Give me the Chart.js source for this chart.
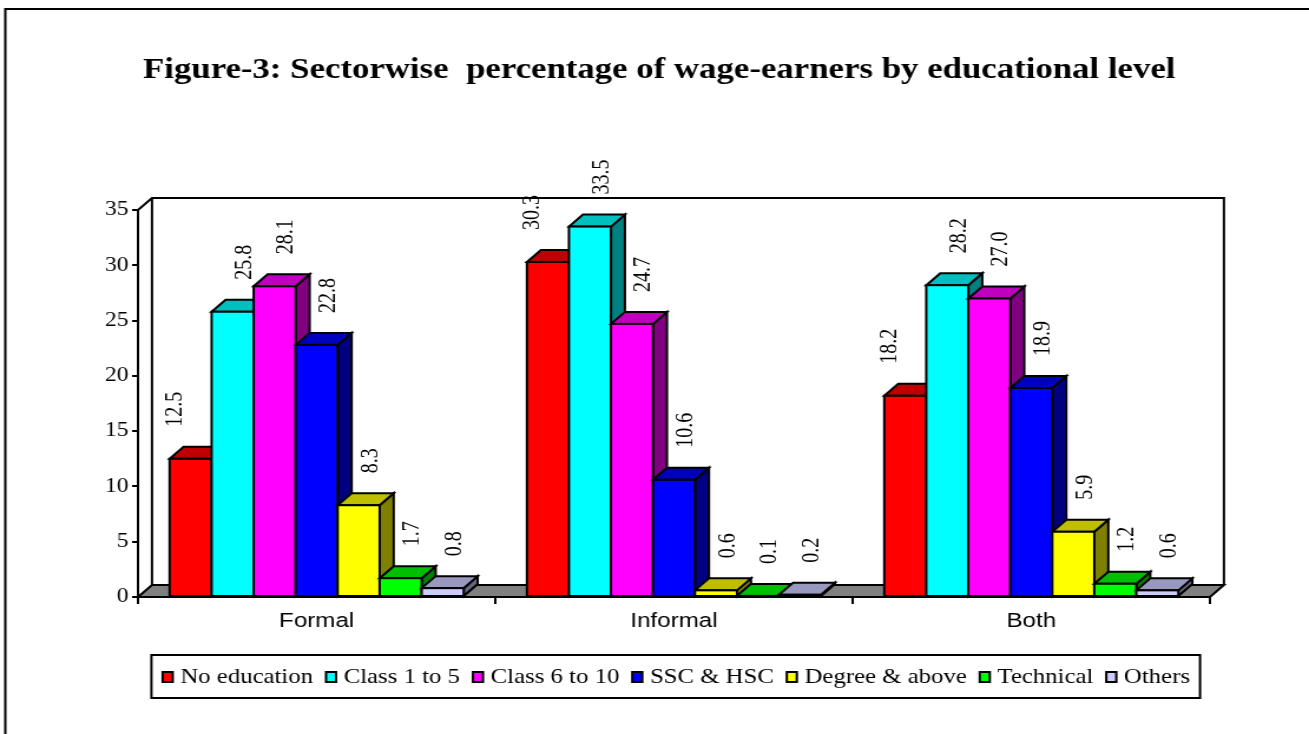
<!DOCTYPE html>
<html>
<head>
<meta charset="utf-8">
<title>Figure-3</title>
<script src="https://cdn.jsdelivr.net/npm/chart.js@4.4.1/dist/chart.umd.min.js"></script>
<style>
    html, body { margin: 0; padding: 0; background: #fff; overflow: hidden; }
    #wageChart { display: block; }
</style>
</head>
<body>
<canvas id="wageChart" width="1110" height="734" style="width:1309px;height:734px"></canvas>
<script>
const sectors = ['Formal', 'Informal', 'Both'];
const levels = ['No education', 'Class 1 to 5', 'Class 6 to 10', 'SSC & HSC', 'Degree & above', 'Technical', 'Others'];

const noEducation = [12.5, 30.3, 18.2];
const class1to5 = [25.8, 33.5, 28.2];
const class6to10 = [28.1, 24.7, 27.0];
const sscHsc = [22.8, 10.6, 18.9];
const degreeAbove = [8.3, 0.6, 5.9];
const technical = [1.7, 0.1, 1.2];
const others = [0.8, 0.2, 0.6];

const yTicks = [0, 5, 10, 15, 20, 25, 30, 35];

const seriesValues = [noEducation, class1to5, class6to10, sscHsc, degreeAbove, technical, others];
const faceColors = ['#FF0000', '#00FFFF', '#FF00FF', '#0000FF', '#FFFF00', '#00FF00', '#CCCCFF'];

// the original picture is stretched sideways, so the canvas is drawn narrower and widened by css
const STRETCH = 1309 / 1110;
const DX = 14 / STRETCH;   // depth of the 3d boxes
const DY = 12;
const SERIF = '"Liberation Serif", "Times New Roman", serif';

function shade(hex, f) {
    const n = parseInt(hex.slice(1), 16);
    const r = Math.round(((n >> 16) & 255) * f);
    const g = Math.round(((n >> 8) & 255) * f);
    const b = Math.round((n & 255) * f);
    return `rgb(${r},${g},${b})`;
}

const frame3d = {
    id: 'frame3d',
    afterLayout(chart) {
        // title and legend are not centred on the canvas in the original
        chart.titleBlock.left = 0;
        chart.titleBlock.right = 2 * 559;
        chart.legend.left = 0;
        chart.legend.right = 2 * 573;
    },
    beforeDraw(chart) {
        const ctx = chart.ctx;
        ctx.save();
        ctx.fillStyle = '#fff';
        ctx.fillRect(0, 0, chart.width, chart.height);
        ctx.strokeStyle = '#000';
        ctx.lineWidth = 2;
        ctx.strokeRect(4.5, 9, chart.width + 40, chart.height + 40);
        ctx.restore();
    },
    beforeDatasetsDraw(chart) {
        const ctx = chart.ctx;
        const {left: L, right: R, top: T, bottom: B} = chart.chartArea;
        ctx.save();
        ctx.strokeStyle = '#000';
        ctx.lineWidth = 2;
        // floor
        ctx.beginPath();
        ctx.moveTo(L, B);
        ctx.lineTo(L + DX, B - DY);
        ctx.lineTo(R + DX, B - DY);
        ctx.lineTo(R, B);
        ctx.closePath();
        ctx.fillStyle = '#808080';
        ctx.fill();
        ctx.stroke();
        // back wall outline
        ctx.beginPath();
        ctx.moveTo(L, T);
        ctx.lineTo(L + DX, T - DY);
        ctx.lineTo(R + DX, T - DY);
        ctx.lineTo(R + DX, B - DY);
        ctx.moveTo(L + DX, T - DY);
        ctx.lineTo(L + DX, B - DY);
        ctx.stroke();
        ctx.restore();
    },
    afterDatasetsDraw(chart) {
        const ctx = chart.ctx;
        ctx.save();
        ctx.strokeStyle = '#000';
        ctx.lineWidth = 2;
        ctx.lineJoin = 'miter';
        // redraw boxes left to right so each one hides the side of the one before
        sectors.forEach((s, j) => {
            seriesValues.forEach((vals, i) => {
                const el = chart.getDatasetMeta(i).data[j];
                const {x, y, base, width} = el.getProps(['x', 'y', 'base', 'width'], true);
                const xl = x - width / 2;
                const xr = x + width / 2;
                const col = faceColors[i];

                ctx.beginPath();
                ctx.moveTo(xr, y);
                ctx.lineTo(xr + DX, y - DY);
                ctx.lineTo(xr + DX, base - DY);
                ctx.lineTo(xr, base);
                ctx.closePath();
                ctx.fillStyle = shade(col, 0.5);
                ctx.fill();
                ctx.stroke();

                ctx.beginPath();
                ctx.moveTo(xl, y);
                ctx.lineTo(xl + DX, y - DY);
                ctx.lineTo(xr + DX, y - DY);
                ctx.lineTo(xr, y);
                ctx.closePath();
                ctx.fillStyle = shade(col, 0.75);
                ctx.fill();
                ctx.stroke();

                ctx.fillStyle = col;
                ctx.fillRect(xl, y, width, base - y);
                ctx.strokeRect(xl, y, width, base - y);
            });
        });

        // value labels, turned upright; the first series sits left of its box in the original
        ctx.fillStyle = '#000';
        ctx.font = '20px ' + SERIF;
        ctx.textAlign = 'left';
        ctx.textBaseline = 'middle';
        seriesValues.forEach((vals, i) => {
            const shift = (i === 0 ? -15 : 12) / STRETCH;
            chart.getDatasetMeta(i).data.forEach((el, j) => {
                const {x, y} = el.getProps(['x', 'y'], true);
                ctx.save();
                ctx.translate(x + shift, y - 32);
                ctx.rotate(-Math.PI / 2);
                ctx.fillText(vals[j].toFixed(1), 0, 0);
                ctx.restore();
            });
        });
        ctx.restore();
    },
    afterDraw(chart) {
        const hb = chart.legend.legendHitBoxes;
        if (!hb || !hb.length) return;
        const ctx = chart.ctx;
        ctx.save();
        ctx.strokeStyle = '#000';
        ctx.lineWidth = 2;
        // legend swatches, drawn narrower than the library's box spacing
        hb.forEach((h, i) => {
            const top = h.top + (h.height - 12) / 2 + 1;
            ctx.fillStyle = faceColors[i];
            ctx.fillRect(h.left + 1, top, 8.5, 10);
            ctx.strokeRect(h.left + 1, top, 8.5, 10);
        });
        const l = Math.min(...hb.map(h => h.left)) - 8.5;
        const r = Math.max(...hb.map(h => h.left + h.width)) + 8.5;
        const t = hb[0].top - 11.5;
        const b = hb[0].top + hb[0].height + 10.5;
        ctx.strokeRect(l, t, r - l, b - t);
        ctx.restore();
    }
};

Chart.defaults.color = '#000';

new Chart(document.getElementById('wageChart').getContext('2d'), {
    type: 'bar',
    data: {
        labels: sectors,
        datasets: seriesValues.map((vals, i) => ({
            label: levels[i],
            data: vals,
            backgroundColor: faceColors[i],
            borderColor: '#000',
            borderWidth: 2,
            borderSkipped: false
        }))
    },
    options: {
        responsive: false,
        animation: false,
        events: [],
        layout: {
            padding: { left: 0, right: 84, top: 0, bottom: 36.5 }
        },
        datasets: {
            bar: { categoryPercentage: 0.823, barPercentage: 1.0 }
        },
        scales: {
            x: {
                offset: true,
                grid: {
                    offset: true,
                    drawOnChartArea: false,
                    drawTicks: true,
                    tickLength: 7,
                    color: '#000',
                    lineWidth: 2
                },
                border: { display: true, color: '#000', width: 2 },
                ticks: {
                    padding: 5,
                    color: '#000',
                    font: { family: '"Liberation Sans", Arial, sans-serif', size: 20.5 }
                },
                afterFit(scale) { scale.height = 59.5; }
            },
            y: {
                min: yTicks[0],
                max: yTicks[yTicks.length - 1],
                afterBuildTicks(scale) { scale.ticks = yTicks.map(v => ({ value: v })); },
                grid: {
                    drawOnChartArea: false,
                    drawTicks: true,
                    tickLength: 5,
                    color: '#000',
                    lineWidth: 2
                },
                border: { display: true, color: '#000', width: 2 },
                ticks: {
                    padding: 3,
                    color: '#000',
                    font: { family: SERIF, size: 20 }
                },
                afterFit(scale) { scale.width = 117; }
            }
        },
        plugins: {
            title: {
                display: true,
                text: 'Figure-3: Sectorwise  percentage of wage-earners by educational level',
                color: '#000',
                font: { family: SERIF, size: 29.5, weight: 'bold', lineHeight: 1.2 },
                padding: { top: 52.3, bottom: 122.3 }
            },
            legend: {
                display: true,
                position: 'bottom',
                labels: {
                    boxWidth: 5.5,
                    boxHeight: 12,
                    padding: 10,
                    color: '#000',
                    font: { family: SERIF, size: 21 },
                    generateLabels(chart) {
                        const items = Chart.defaults.plugins.legend.labels.generateLabels(chart);
                        items.forEach(it => {
                            it.fillStyle = 'rgba(0,0,0,0)';
                            it.strokeStyle = 'rgba(0,0,0,0)';
                            it.lineWidth = 0;
                        });
                        return items;
                    }
                }
            },
            tooltip: { enabled: false }
        }
    },
    plugins: [frame3d]
});
</script>
</body>
</html>
